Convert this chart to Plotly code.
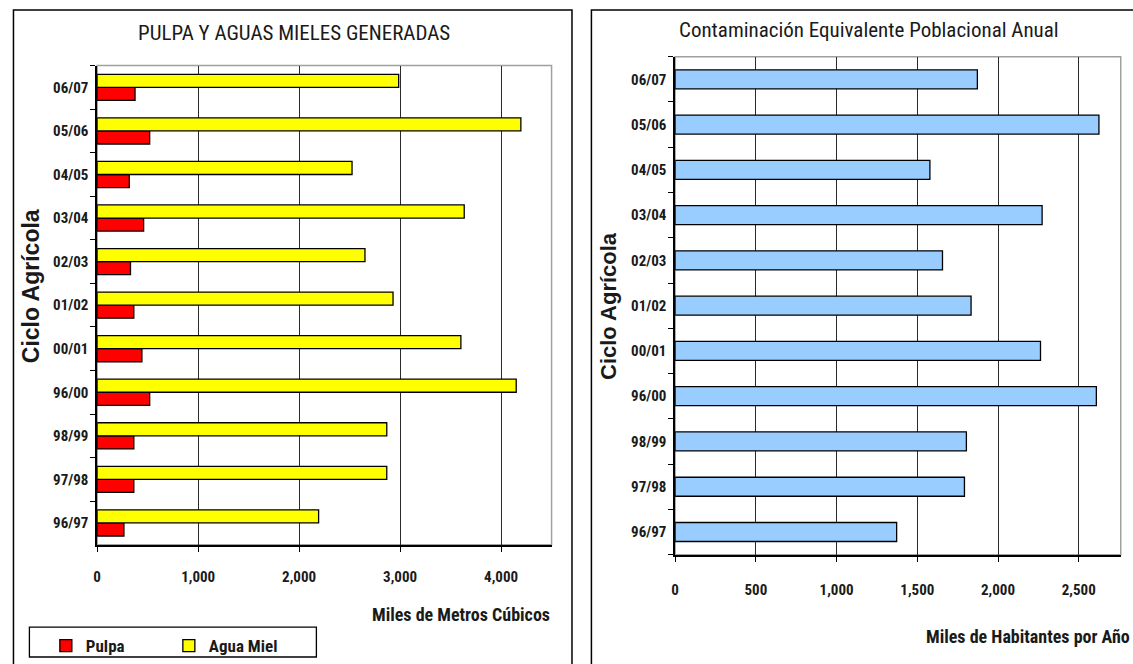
import plotly.graph_objects as go

# Agricultural cycles, listed bottom to top as drawn on the category axes
cycles = ["96/97", "97/98", "98/99", "96/00", "00/01", "01/02",
          "02/03", "03/04", "04/05", "05/06", "06/07"]

# Left panel: pulp and honey water generated (thousands of m3)
pulpa = [265, 363, 363, 520, 443, 363, 330, 460, 318, 520, 375]
agua_miel = [2193, 2868, 2868, 4150, 3602, 2930, 2652, 3635, 2524, 4196, 2986]

# Right panel: equivalent population pollution (thousands of inhabitants per year)
poblacion = [1372, 1792, 1804, 2609, 2263, 1833, 1656, 2273, 1578, 2625, 1872]

W, H = 1133, 664
NARROW = "Liberation Sans Narrow, Arial Narrow, Roboto Condensed, Roboto, sans-serif"
WIDE = "Liberation Sans, Arial, sans-serif"
INK = "#1a1a1a"


def px(x):
    return x / W


def py(y):
    return 1 - y / H


fig = go.Figure()

fig.add_trace(go.Bar(
    y=cycles, x=pulpa, orientation="h", name="Pulpa",
    marker=dict(color="#FF0000", line=dict(color="#000000", width=1.3)),
    xaxis="x", yaxis="y",
))
fig.add_trace(go.Bar(
    y=cycles, x=agua_miel, orientation="h", name="Agua Miel",
    marker=dict(color="#FFFF00", line=dict(color="#000000", width=1.3)),
    xaxis="x", yaxis="y",
))
fig.add_trace(go.Bar(
    y=cycles, x=poblacion, orientation="h", name="Población",
    marker=dict(color="#99CCFF", line=dict(color="#000000", width=1.3)),
    xaxis="x2", yaxis="y2", showlegend=False, width=0.42,
))

tickfont = dict(family=NARROW, size=15, color=INK, weight="bold")

xcommon = dict(
    showgrid=True, gridcolor="#2a2a2a", gridwidth=1.3,
    showline=True, linecolor="#000000", linewidth=1.5,
    ticks="outside", ticklen=6, tickcolor="#000000", tickwidth=1.3,
    tickfont=tickfont, tickformat=",d", zeroline=False,
    fixedrange=True,
)
ycommon = dict(
    type="category", categoryorder="array", categoryarray=cycles,
    range=[-0.5, len(cycles) - 0.5],
    showline=True, linecolor="#000000", linewidth=1.5,
    ticks="outside", tickson="boundaries", ticklen=5,
    tickcolor="#000000", tickwidth=1.3,
    tickfont=tickfont, showgrid=False, fixedrange=True,
    ticklabelstandoff=4,
)

fig.update_layout(
    width=W, height=H,
    margin=dict(l=0, r=0, t=0, b=0),
    paper_bgcolor="#ffffff", plot_bgcolor="#ffffff",
    barmode="group", bargap=0.4, bargroupgap=0.0,
    xaxis=dict(domain=[px(93.5), px(549.5)], range=[0, 4500],
               dtick=1000, anchor="y", ticklabelstandoff=12, **xcommon),
    yaxis=dict(domain=[py(548), py(66)], anchor="x", **ycommon),
    xaxis2=dict(domain=[px(673.5), px(1120.7)], range=[0, 2760],
                dtick=500, anchor="y2", ticklabelstandoff=15, **xcommon),
    yaxis2=dict(domain=[py(558), py(57)], anchor="x2", **ycommon),
    legend=dict(
        orientation="h", x=px(42), y=py(632), xanchor="left", yanchor="top",
        font=dict(family=NARROW, size=17, color=INK, weight="bold"),
        bgcolor="rgba(0,0,0,0)", borderwidth=0,
        entrywidth=78, itemwidth=30, traceorder="normal",
    ),
    showlegend=True,
)

shapes = []
# outer frames of the two panels
shapes.append(dict(type="rect", xref="paper", yref="paper",
                   x0=px(9.5), x1=px(570), y0=py(700), y1=py(10),
                   line=dict(color="#000000", width=1.5), layer="below"))
shapes.append(dict(type="rect", xref="paper", yref="paper",
                   x0=px(589.5), x1=px(1160), y0=py(700), y1=py(10),
                   line=dict(color="#000000", width=1.5), layer="below"))
# light plot-area borders
for xr, yr in (("x", "y"), ("x2", "y2")):
    shapes.append(dict(type="rect", xref=f"{xr} domain", yref=f"{yr} domain",
                       x0=0, x1=1, y0=0, y1=1,
                       line=dict(color="#a0a0a0", width=1.5), layer="below"))
# legend box
shapes.append(dict(type="rect", xref="paper", yref="paper",
                   x0=px(25.5), x1=px(313.5), y0=py(661), y1=py(631),
                   line=dict(color="#000000", width=1.3),
                   fillcolor="#ffffff", layer="below"))
fig.update_layout(shapes=shapes)

annotations = [
    dict(text="PULPA Y AGUAS MIELES GENERADAS", x=px(291), y=py(33),
         font=dict(family=NARROW, size=21, color=INK)),
    dict(text="Contaminación Equivalente Poblacional Anual", x=px(868), y=py(30),
         font=dict(family=NARROW, size=21, color=INK)),
    dict(text="Ciclo Agrícola", x=px(27), y=py(288), textangle=-90,
         font=dict(family=WIDE, size=23, color=INK, weight="bold")),
    dict(text="Ciclo Agrícola", x=px(606), y=py(308), textangle=-90,
         font=dict(family=WIDE, size=22, color=INK, weight="bold")),
    dict(text="Miles de Metros Cúbicos", x=px(550), y=py(618), xanchor="right",
         font=dict(family=NARROW, size=18, color=INK, weight="bold")),
    dict(text="Miles de Habitantes por Año", x=px(1132), y=py(640), xanchor="right",
         font=dict(family=NARROW, size=18, color=INK, weight="bold")),
]
for a in annotations:
    a.setdefault("xanchor", "center")
    a.update(xref="paper", yref="paper", yanchor="middle", showarrow=False)
fig.update_layout(annotations=annotations)

fig.write_html("out.html")
